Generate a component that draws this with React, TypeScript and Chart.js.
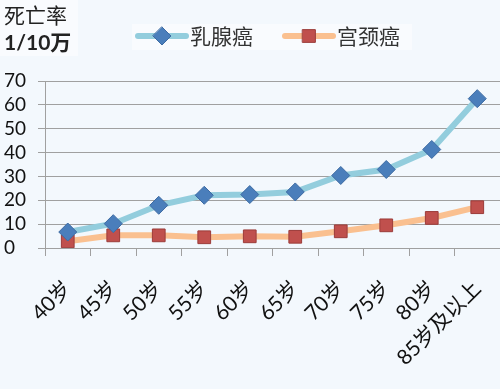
import { useEffect, useRef } from "react";
import { Chart, registerables } from "chart.js";

Chart.register(...registerables);

const categories = ["40岁", "45岁", "50岁", "55岁", "60岁", "65岁", "70岁", "75岁", "80岁", "85岁及以上"];
const breastValues = [6.7, 10.2, 17.9, 22.1, 22.4, 23.5, 30.4, 32.9, 41.3, 62.6];
const cervicalValues = [2.8, 5.3, 5.3, 4.5, 4.9, 4.7, 7.0, 9.5, 12.6, 17.1];
const yTickMin = 0;
const yTickMax = 70;
const yTickStep = 10;
const seriesNames = ["乳腺癌", "宫颈癌"];
const titleLines = ["死亡率", "1/10万"];

const FONT = "Lato, 'Noto Sans CJK SC', sans-serif";
const CJK = "'Noto Sans CJK SC', sans-serif";

const decorPlugin = {
  id: "decor",
  beforeDraw(chart: any) {
    const { ctx, width, height } = chart;
    ctx.save();
    ctx.fillStyle = "#f3f8fd";
    ctx.fillRect(0, 0, width, height);
    ctx.fillStyle = "#f9fbfe";
    ctx.fillRect(0, 0, 78, 56);
    ctx.fillRect(132, 24, 280, 26);
    ctx.restore();
  },
  afterDraw(chart: any) {
    const { ctx } = chart;
    ctx.save();
    ctx.fillStyle = "#222";
    ctx.textBaseline = "middle";
    ctx.textAlign = "left";
    ctx.font = `21px ${CJK}`;
    ctx.fillText(titleLines[0], 4, 15);
    ctx.font = `bold 21px ${FONT}`;
    ctx.fillText(titleLines[1], 4, 43);
    const starts = [138, 285];
    const y = 36;
    chart.data.datasets.forEach((ds: any, i: number) => {
      const x0 = starts[i];
      ctx.strokeStyle = ds.borderColor;
      ctx.lineWidth = ds.borderWidth;
      ctx.lineCap = "round";
      ctx.beginPath();
      ctx.moveTo(x0, y);
      ctx.lineTo(x0 + 48, y);
      ctx.stroke();
      const cx = x0 + 24;
      ctx.fillStyle = ds.pointBackgroundColor;
      ctx.strokeStyle = ds.pointBorderColor;
      ctx.lineWidth = 1;
      ctx.beginPath();
      if (ds.pointStyle === "rectRot") {
        const r = ds.pointRadius;
        ctx.moveTo(cx, y - r);
        ctx.lineTo(cx + r, y);
        ctx.lineTo(cx, y + r);
        ctx.lineTo(cx - r, y);
        ctx.closePath();
      } else {
        const s = ds.pointRadius * Math.SQRT1_2;
        ctx.rect(cx - s, y - s, 2 * s, 2 * s);
      }
      ctx.fill();
      ctx.stroke();
      ctx.fillStyle = "#333";
      ctx.font = `21px ${CJK}`;
      ctx.textAlign = "left";
      ctx.textBaseline = "middle";
      ctx.fillText(ds.label, x0 + 52, y);
    });
    ctx.restore();
  },
};

export default function App() {
  const ref = useRef<HTMLCanvasElement>(null);
  useEffect(() => {
    if (!ref.current) return;
    const chart = new Chart(ref.current, {
      type: "line",
      data: {
        labels: categories,
        datasets: [
          {
            label: seriesNames[0],
            data: breastValues,
            borderColor: "#93cddd",
            borderWidth: 6,
            pointStyle: "rectRot",
            pointRadius: 9,
            pointHoverRadius: 9,
            pointBackgroundColor: "#4a7ebb",
            pointBorderColor: "#3d6ba3",
            pointBorderWidth: 1,
            tension: 0,
          },
          {
            label: seriesNames[1],
            data: cervicalValues,
            borderColor: "#fac090",
            borderWidth: 6,
            pointStyle: "rect",
            pointRadius: 9,
            pointHoverRadius: 9,
            pointBackgroundColor: "#c0504d",
            pointBorderColor: "#9b3b39",
            pointBorderWidth: 1,
            tension: 0,
          },
        ],
      },
      options: {
        animation: false,
        responsive: false,
        devicePixelRatio: 1,
        layout: { autoPadding: false, padding: { top: 81, left: 4, right: 0, bottom: 0 } },
        plugins: {
          legend: { display: false },
          tooltip: { enabled: false },
          title: { display: false },
        },
        scales: {
          x: {
            offset: true,
            grid: { offset: true, drawOnChartArea: false, tickLength: 8, color: "#a0a0a0" },
            border: { display: true, color: "#a0a0a0" },
            ticks: {
              minRotation: 45,
              maxRotation: 45,
              autoSkip: false,
              padding: 20,
              color: "#111",
              font: { size: 21, family: FONT },
            },
            afterFit: (s: any) => {
              s.height = 141;
              s.paddingRight = 0;
              s.paddingLeft = 0;
            },
          },
          y: {
            min: yTickMin,
            max: yTickMax,
            ticks: {
              stepSize: yTickStep,
              autoSkip: false,
              crossAlign: "far",
              color: "#111",
              font: { size: 19, family: FONT },
            },
            grid: { color: "#a0a0a0", tickLength: 7, lineWidth: 1 },
            border: { display: true, color: "#a0a0a0" },
            afterFit: (s: any) => {
              s.width = 41;
            },
          },
        },
      },
      plugins: [decorPlugin],
    });
    return () => chart.destroy();
  }, []);
  return (
    <div style={{ position: "absolute", left: 0, top: 0, width: 500, height: 389 }}>
      <canvas ref={ref} width={500} height={389} style={{ display: "block" }} />
    </div>
  );
}
